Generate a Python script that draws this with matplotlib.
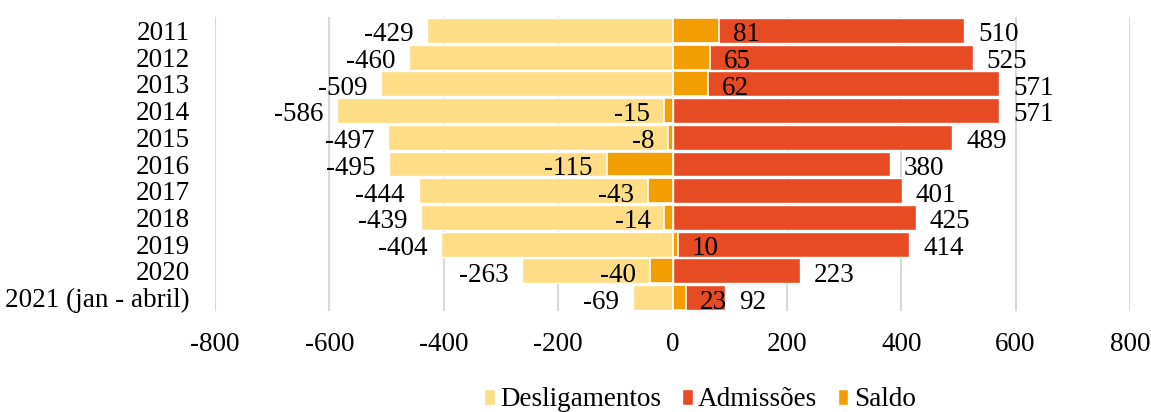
import matplotlib
matplotlib.use("Agg")
import matplotlib.pyplot as plt
from matplotlib.patches import Patch

categories = ["2011", "2012", "2013", "2014", "2015", "2016", "2017", "2018",
              "2019", "2020", "2021 (jan - abril)"]
desligamentos = [-429, -460, -509, -586, -497, -495, -444, -439, -404, -263, -69]
admissoes = [510, 525, 571, 571, 489, 380, 401, 425, 414, 223, 92]
saldo = [81, 65, 62, -15, -8, -115, -43, -14, 10, -40, 23]
xticks = [-800, -600, -400, -200, 0, 200, 400, 600, 800]

c_des = "#FEDD86"
c_adm = "#E64B24"
c_sal = "#F29E02"

plt.rcParams["font.family"] = ["Liberation Serif", "DejaVu Serif"]
FS = 19.5

W, H = 1151, 412
fig = plt.figure(figsize=(W / 100, H / 100), dpi=100)
ax = fig.add_axes([215 / W, 1 - 311 / H, (1130 - 215) / W, (311 - 17) / H])

y = list(range(len(categories)))
h = 0.93
ax.barh(y, desligamentos, height=h, color=c_des, edgecolor="white", linewidth=1.0, zorder=2)
ax.barh(y, admissoes, height=h, color=c_adm, edgecolor="white", linewidth=1.0, zorder=2)
ax.barh(y, saldo, height=h, color=c_sal, edgecolor="white", linewidth=1.2, zorder=3)

def label(vals):
    for yi, v in zip(y, vals):
        off = 10 if v >= 0 else -10
        ax.annotate(str(v), xy=(v, yi), xytext=(off, -1), textcoords="offset points",
                    ha="left" if v >= 0 else "right", va="center_baseline",
                    fontsize=FS, color="black", zorder=5)

label(desligamentos)
label(admissoes)
label(saldo)

ax.set_xlim(-800, 800)
ax.set_ylim(len(categories) - 0.5, -0.5)
ax.set_xticks(xticks)
ax.set_xticklabels([str(t) for t in xticks], fontsize=FS)
ax.set_yticks(y)
ax.set_yticklabels(categories, fontsize=FS)
ax.tick_params(axis="both", length=0)
ax.tick_params(axis="x", pad=15)
ax.tick_params(axis="y", pad=18)
for s in ax.spines.values():
    s.set_visible(False)
ax.grid(axis="x", color="#d9d9d9", linewidth=1.5, zorder=0)
ax.set_axisbelow(True)

handles = [Patch(facecolor=c_des, edgecolor="white", label="Desligamentos"),
           Patch(facecolor=c_adm, edgecolor="white", label="Admissões"),
           Patch(facecolor=c_sal, edgecolor="white", label="Saldo")]
fig.legend(handles=handles, loc="center", bbox_to_anchor=(700 / W, 1 - 400 / H),
           ncol=3, frameon=False, fontsize=FS, handlelength=0.4, handleheight=0.55,
           handletextpad=0.2, columnspacing=0.75, borderaxespad=0, borderpad=0)

fig.savefig("out.png", dpi=100)
